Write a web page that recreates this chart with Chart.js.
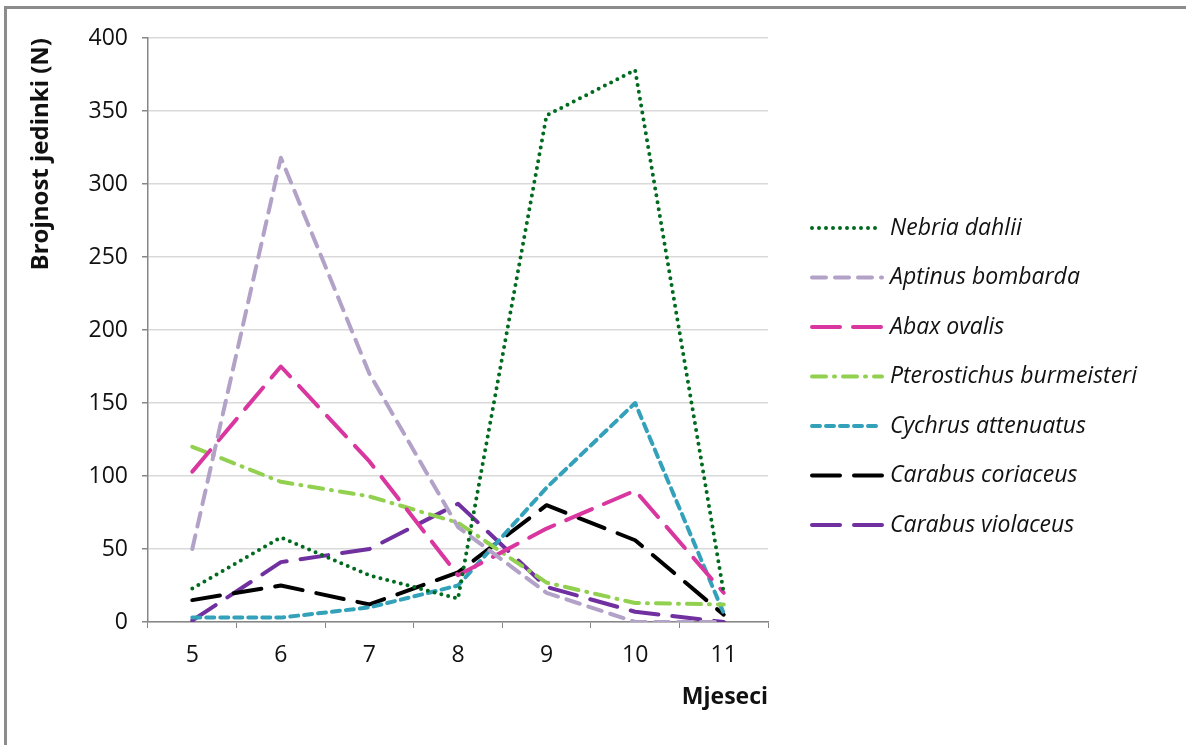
<!DOCTYPE html>
<html>
<head>
<meta charset="utf-8">
<script src="https://cdn.jsdelivr.net/npm/chart.js@4.4.1/dist/chart.umd.min.js"></script>
<style>
    html, body { margin: 0; padding: 0; background: #fff; }
    #wrap { position: relative; width: 1186px; height: 745px; overflow: hidden; }
    #frame { position: absolute; left: 4px; top: 6px; width: 1400px; height: 1000px;
             border-top: 3px solid #8c8c8c; border-left: 3px solid #8c8c8c; }
    canvas { position: absolute; left: 0; top: 0; }
</style>
</head>
<body>
<div id="wrap">
    <div id="frame"></div>
    <canvas id="chart" width="1186" height="745"></canvas>
</div>
<script>
// months on the x axis
const months = ['5', '6', '7', '8', '9', '10', '11'];

// counts per species
const nebriaDahlii = [23, 58, 32, 16, 347, 378, 20];
const aptinusBombarda = [50, 318, 170, 65, 20, 0, 0];
const abaxOvalis = [103, 175, 110, 32, 64, 90, 20];
const pterostichusBurmeisteri = [120, 96, 86, 68, 27, 13, 12];
const cychrusAttenuatus = [3, 3, 10, 25, 92, 150, 6];
const carabusCoriaceus = [15, 25, 12, 34, 80, 56, 5];
const carabusViolaceus = [1, 41, 50, 81, 24, 7, 0];

const yMax = 400;
const yStep = 50;

const series = [
    { label: 'Nebria dahlii', data: nebriaDahlii, color: '#006b1f', dash: [0, 7], width: 4 },
    { label: 'Aptinus bombarda', data: aptinusBombarda, color: '#b3a2c7', dash: [14, 9], width: 4 },
    { label: 'Abax ovalis', data: abaxOvalis, color: '#d9379f', dash: [28, 13], width: 4 },
    { label: 'Pterostichus burmeisteri', data: pterostichusBurmeisteri, color: '#92d050', dash: [14, 8, 1, 8], width: 4 },
    { label: 'Cychrus attenuatus', data: cychrusAttenuatus, color: '#33a1b9', dash: [8, 6], width: 4 },
    { label: 'Carabus coriaceus', data: carabusCoriaceus, color: '#000000', dash: [28, 14], width: 4 },
    { label: 'Carabus violaceus', data: carabusViolaceus, color: '#7030a0', dash: [28, 14], width: 4 }
];

// legend drawn by hand so each line sample keeps its dash pattern
const sideLegend = {
    id: 'sideLegend',
    afterDraw(chart) {
        const ctx = chart.ctx;
        const x0 = 812, x1 = 882, textX = 890, top = 228, step = 49.5;
        chart.data.datasets.forEach((ds, i) => {
            const y = top + i * step;
            ctx.save();
            ctx.strokeStyle = ds.borderColor;
            ctx.lineWidth = ds.borderWidth;
            ctx.lineCap = ds.borderCapStyle;
            ctx.setLineDash(ds.borderDash);
            ctx.beginPath();
            ctx.moveTo(x0, y);
            ctx.lineTo(x1, y);
            ctx.stroke();
            ctx.setLineDash([]);
            ctx.fillStyle = '#111';
            ctx.font = 'italic 23px "Open Sans"';
            ctx.textBaseline = 'middle';
            ctx.fillText(ds.label, textX, y);
            ctx.restore();
        });
    }
};

new Chart(document.getElementById('chart'), {
    type: 'line',
    data: {
        labels: months,
        datasets: series.map(s => ({
            label: s.label,
            data: s.data,
            borderColor: s.color,
            backgroundColor: s.color,
            borderWidth: s.width,
            borderDash: s.dash,
            borderCapStyle: 'round',
            borderJoinStyle: 'round',
            pointRadius: 0,
            tension: 0,
            fill: false
        }))
    },
    options: {
        responsive: false,
        animation: false,
        layout: { padding: { left: 10, top: 38, right: 418, bottom: 0 } },
        plugins: {
            legend: { display: false },
            tooltip: { enabled: false }
        },
        scales: {
            x: {
                offset: true,
                afterFit: scale => { scale.height = 123; },
                grid: { offset: true, drawOnChartArea: false, drawTicks: true, tickLength: 6, color: '#868686' },
                border: { color: '#868686', width: 1.5 },
                ticks: { color: '#111', padding: 14, font: { family: 'Open Sans', size: 23 } },
                title: {
                    display: true, text: 'Mjeseci', align: 'end', color: '#111',
                    font: { family: 'Open Sans', size: 23, weight: 'bold' },
                    padding: { top: 0, bottom: 34 }
                }
            },
            y: {
                min: 0,
                max: yMax,
                afterFit: scale => { scale.width = 138; },
                grid: { color: '#d9d9d9', lineWidth: 1.5, tickLength: 6, tickColor: '#868686' },
                border: { color: '#868686', width: 1.5 },
                ticks: { stepSize: yStep, color: '#111', padding: 14, font: { family: 'Open Sans', size: 23 } },
                title: {
                    display: true, text: 'Brojnost jedinki (N)', align: 'end', color: '#111',
                    font: { family: 'Open Sans', size: 24, weight: 'bold' },
                    padding: { top: 17, bottom: 0 }
                }
            }
        }
    },
    plugins: [sideLegend]
});
</script>
</body>
</html>
